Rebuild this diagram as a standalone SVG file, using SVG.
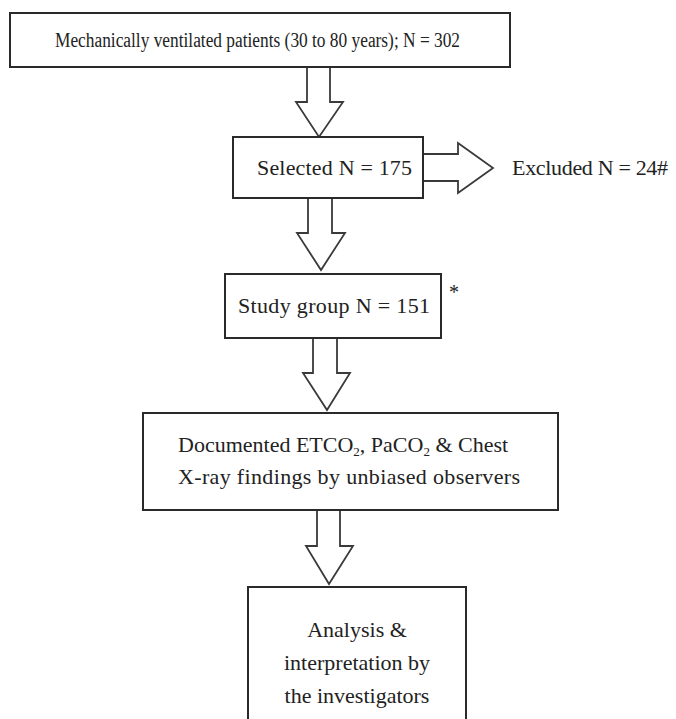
<svg xmlns="http://www.w3.org/2000/svg" width="676" height="719" viewBox="0 0 676 719">
<style>
.box{fill:#fff;stroke:#2a2a2a;stroke-width:2}
.arr{fill:#fff;stroke:#3a3a3a;stroke-width:1.8;stroke-linejoin:miter}
text{font-family:"Liberation Serif","Times New Roman",serif;fill:#222}
.t{font-size:22px}
.s{font-size:20px}
</style>
<rect width="676" height="719" fill="#fff"/>
<g id="connectors">
<polygon class="arr" points="307,67 307,102 296,102 319,137 343,102 330,102 330,67"/>
<polygon class="arr" points="423,154 458,154 458,143 493,168 458,193 458,181 423,181"/>
<polygon class="arr" points="308,198 308,233 297,233 321,270 345,233 332,233 332,198"/>
<polygon class="arr" points="313,338 313,373 303,373 327,410 350,373 337,373 337,338"/>
<polygon class="arr" points="317,510 317,546 306,546 329,584 353,546 340,546 340,510"/>
</g>
<g id="n1">
<rect class="box" x="10" y="13" width="500" height="54"/>
<text class="s" x="55" y="47" textLength="405" lengthAdjust="spacingAndGlyphs">Mechanically ventilated patients (30 to 80 years); N = 302</text>
</g>
<g id="n2">
<rect class="box" x="233" y="137" width="190" height="61"/>
<text class="t" x="257" y="175" textLength="155">Selected N = 175</text>
</g>
<g id="n-excluded">
<text class="t" x="512" y="175" textLength="156">Excluded N = 24#</text>
</g>
<g id="n3">
<rect class="box" x="225" y="274" width="216" height="64"/>
<text class="t" x="238" y="313" textLength="192">Study group N = 151</text>
<text x="449" y="299" font-size="20">*</text>
</g>
<g id="n4">
<rect class="box" x="143" y="413" width="415" height="97"/>
<text class="t" x="178" y="452">Documented ETCO<tspan font-size="13" dy="4">2</tspan><tspan dy="-4">, PaCO</tspan><tspan font-size="13" dy="4">2</tspan><tspan dy="-4"> &amp; Chest</tspan></text>
<text class="t" x="178" y="484" textLength="342">X-ray findings by unbiased observers</text>
</g>
<g id="n5">
<rect class="box" x="248" y="587" width="218" height="140"/>
<text class="t" x="357" y="637" text-anchor="middle">Analysis &amp;</text>
<text class="t" x="357" y="670" text-anchor="middle">interpretation by</text>
<text class="t" x="357" y="703" text-anchor="middle">the investigators</text>
</g>
</svg>
